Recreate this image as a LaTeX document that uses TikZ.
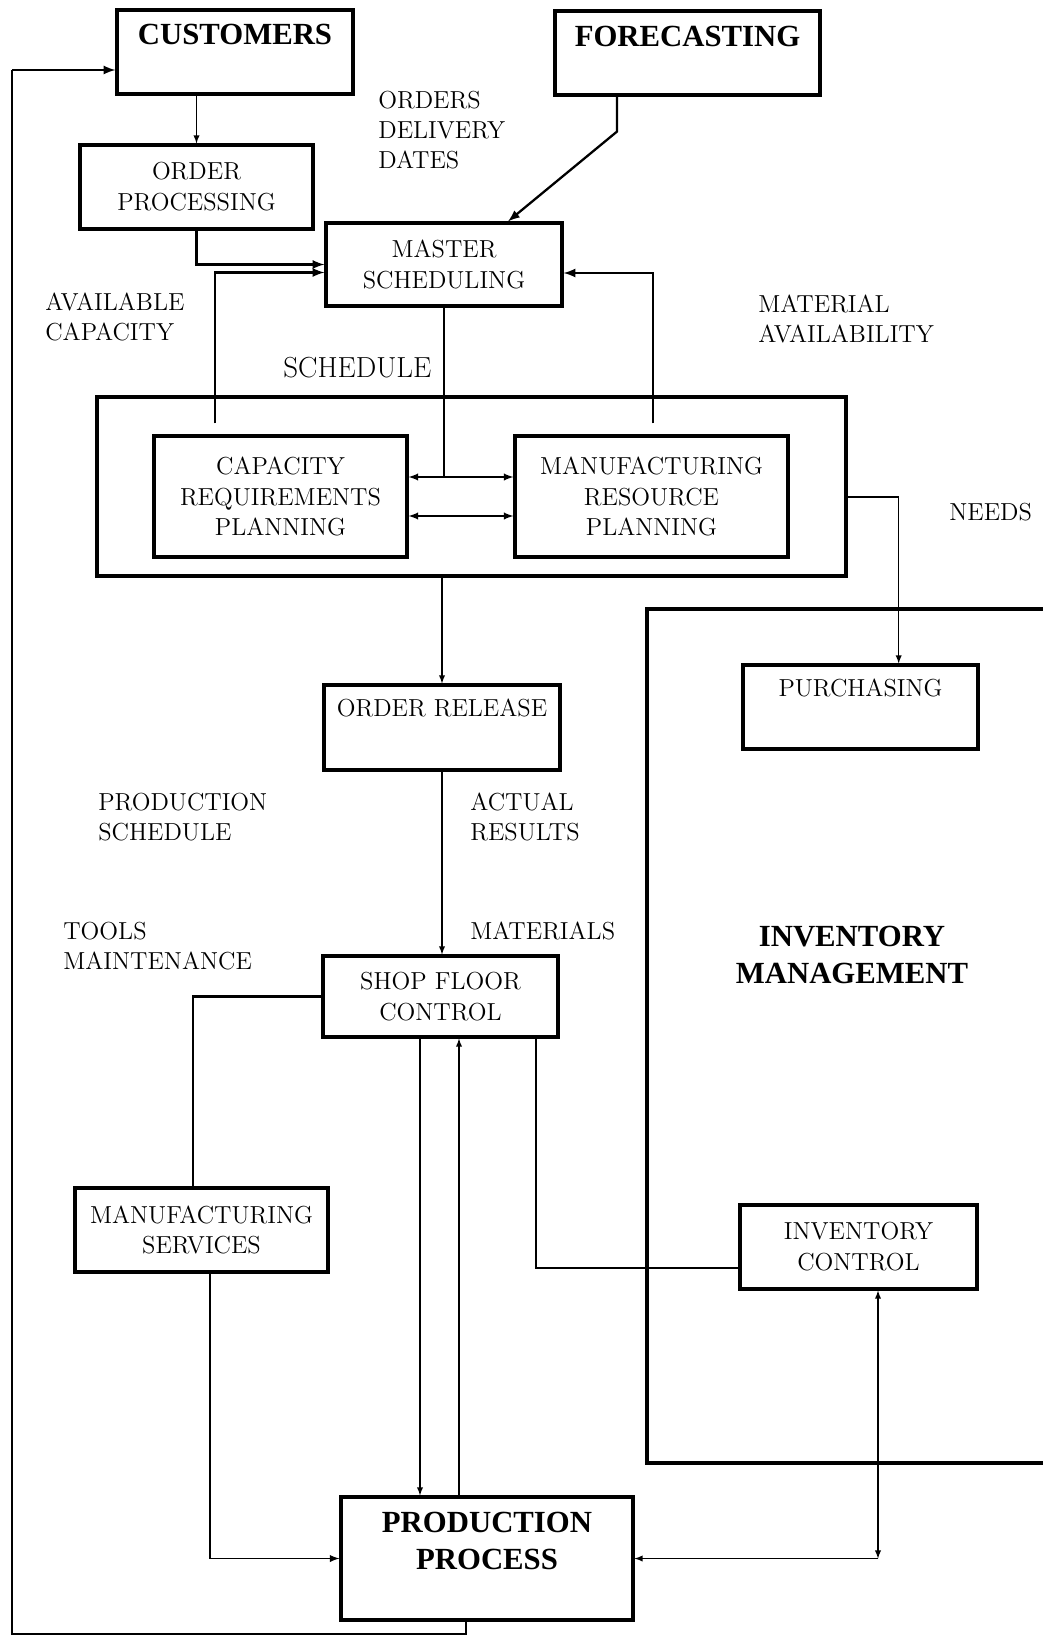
\documentclass[tikz,border=0pt]{standalone}
\usepackage{fontspec}
\newfontfamily\ttlfam{Liberation Serif}
\usetikzlibrary{calc,arrows}
\newcommand{\lblfont}{\fontsize{14}{17}\selectfont\addfontfeatures{LetterSpace=5.0}}
\newcommand{\boxfont}{\fontsize{14}{17.6}\selectfont}
\newcommand{\ttlfont}{\ttlfam\bfseries\fontsize{17.5}{21.5}\selectfont}

\begin{document}
\begin{tikzpicture}[x=0.02cm,y=-0.02cm,>=latex,
  blk/.style={draw,line width=1.8pt,inner sep=0pt,align=center,font=\boxfont},
  lbl/.style={inner sep=0pt,anchor=north west,align=left,font=\lblfont},
  thk/.style={line width=1.3pt},
  med/.style={line width=0.9pt},
  thn/.style={line width=0.6pt}]
\useasboundingbox (0,0) rectangle (1043,1638);

% boxes
\node[blk,minimum width=4.72cm,minimum height=1.68cm,
  label={[font=\ttlfont,inner sep=0pt,anchor=north,yshift=-0.3cm]north:CUSTOMERS}] (cust) at (235,52) {};
\node[blk,minimum width=5.30cm,minimum height=1.68cm,
  label={[font=\ttlfont,inner sep=0pt,anchor=north,yshift=-0.32cm]north:FORECASTING}] (fore) at (687.5,53) {};
\node[blk,minimum width=4.66cm,minimum height=1.68cm] (ordproc) at (196.5,187) {ORDER\\PROCESSING};
\node[blk,minimum width=4.72cm,minimum height=1.66cm] (master) at (444,264.5) {MASTER\\SCHEDULING};
\node[blk,line width=2pt,minimum width=14.98cm,minimum height=3.58cm] (plan) at (471.5,486.5) {};
\node[blk,minimum width=5.06cm,minimum height=2.42cm] (crp) at (280.5,496.5) {CAPACITY\\REQUIREMENTS\\PLANNING};
\node[blk,minimum width=5.46cm,minimum height=2.42cm] (mrp) at (651.5,496.5) {MANUFACTURING\\RESOURCE\\PLANNING};
\node[blk,minimum width=4.72cm,minimum height=1.70cm,
  label={[font=\boxfont,inner sep=0pt,anchor=north,yshift=-0.3cm]north:ORDER RELEASE}] (release) at (442,727.5) {};
\node[blk,minimum width=4.70cm,minimum height=1.68cm,
  label={[font=\boxfont,inner sep=0pt,anchor=north,yshift=-0.3cm]north:PURCHASING}] (purch) at (860.5,707) {};
\node[blk,minimum width=4.70cm,minimum height=1.62cm] (shop) at (440.5,996.5) {SHOP FLOOR\\CONTROL};
\node[blk,minimum width=5.06cm,minimum height=1.68cm] (mfgserv) at (201.5,1230) {MANUFACTURING\\SERVICES};
\node[blk,minimum width=4.74cm,minimum height=1.68cm] (invctrl) at (858.5,1247) {INVENTORY\\CONTROL};
\node[blk,minimum width=5.84cm,minimum height=2.46cm,
  label={[font=\ttlfont,inner sep=0pt,align=center,anchor=north,yshift=-0.32cm]north:PRODUCTION\\PROCESS}] (prod) at (487,1558.5) {};

% inventory management (open to the right)
\draw[line width=2pt] (1060,609) -| (647,1463) -- (1060,1463);
\node[font=\ttlfont,align=center,inner sep=0pt] (invmgmt) at (852,955) {INVENTORY\\MANAGEMENT};

% labels
\node[lbl] (lorders) at (378,91) {ORDERS\\DELIVERY\\DATES};
\node[lbl] (lavail) at (45,293) {AVAILABLE\\CAPACITY};
\node[lbl,font=\fontsize{16.5}{20}\selectfont] (lsched) at (283,357) {SCHEDULE};
\node[lbl] (lmat) at (758,295) {MATERIAL\\AVAILABILITY};
\node[lbl] (lneeds) at (949,503) {NEEDS};
\node[lbl] (lprodsch) at (98,793) {PRODUCTION\\SCHEDULE};
\node[lbl] (lactual) at (470,793) {ACTUAL\\RESULTS};
\node[lbl] (ltools) at (63,922) {TOOLS\\MAINTENANCE};
\node[lbl] (lmaterials) at (470,922) {MATERIALS};

% connectors
\coordinate (capout) at ($(crp.north)+(-65.5,-11)$);
\coordinate (matout) at ($(mrp.north)+(1.5,-11)$);
\coordinate (jup) at ($(crp.east)+(0,-19.5)$);
\coordinate (jdn) at ($(crp.east)+(0,19.5)$);
\coordinate (fbend) at ($(fore.south)+(-70.5,35)$);
\coordinate (needs) at ($(plan.east)+(51,10.5)$);
\coordinate (sdown) at ($(shop.south)+(-20.5,0)$);
\coordinate (sup) at ($(shop.south)+(18.5,0)$);
\coordinate (icdown) at ($(invctrl.south)+(19.5,0)$);
\coordinate (pout) at ($(prod.south)+(-21,0)$);
\coordinate (fbmid) at (220,1634);
\coordinate (fbl) at (12,1634);
\coordinate (fbt) at (12,70);

\draw[thn,->] (cust.south -| ordproc.north) -- (ordproc.north);
\draw[thk,->] (ordproc.south) |- (master.west);
\draw[thk,->] (capout) |- ($(master.west)+(0,8)$);
\draw[thk,->] (matout) |- ($(master.east)+(0,8.5)$);
\draw[thk,->] (fbend |- fore.south) -- (fbend) -- ($(master.north)+(64,0)$);
\draw[thk] (master.south) -- (master.south |- jup);
\draw[med,<->] (jup) -- (jup -| mrp.west);
\draw[med,<->] (jdn) -- (jdn -| mrp.west);
\draw[thn,->] (plan.south -| release.north) -- (release.north);
\draw[thk] (plan.east |- needs) -- (needs);
\draw[thn,->] (needs) -- (needs |- purch.north);
\draw[thn,->] (release.south) -- (release.south |- shop.north);
\draw[thk] (shop.west) -| ($(mfgserv.north)+(-8.5,0)$);
\draw[med,->] ($(mfgserv.south)+(8.5,0)$) |- (prod.west);
\draw[thn,->] (sdown) -- (sdown |- prod.north);
\draw[thn,->] (sup |- prod.north) -- (sup);
\draw[thk] ($(shop.south)+(95.5,0)$) |- ($(invctrl.west)+(0,21)$);
\draw[thn,<->] (icdown) -- (icdown |- prod.east);
\draw[thn,->] (icdown |- prod.east) -- (prod.east);
\draw[thk] (pout) |- (fbmid);
\draw[thn] (fbmid) -- (fbl) -- (fbt);
\draw[thk,->] (fbt) -- (fbt -| cust.west);
\end{tikzpicture}
\end{document}
